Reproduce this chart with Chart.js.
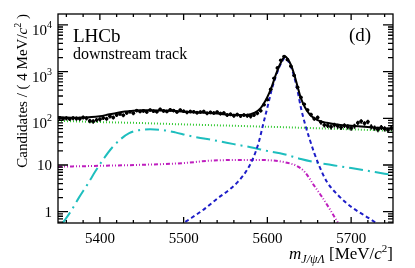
<!DOCTYPE html>
<html>
<head>
<meta charset="utf-8">
<script src="https://cdn.jsdelivr.net/npm/chart.js@4.4.0/dist/chart.umd.min.js"></script>
<style>
    html, body { margin: 0; padding: 0; background: #fff; }
</style>
</head>
<body>
<canvas id="graficoMasa" width="415" height="268"></canvas>
<script>
// Bins de 4 MeV entre 5350 y 5750
const inicioBin = 5350;
const anchoBin = 4;
const cuentas = [
    102, 98, 100, 97, 101, 99, 98, 104, 100, 88,
    86, 92, 95, 102, 98, 110, 104, 118, 124, 116,
    130, 138, 128, 146, 140, 144, 136, 150, 142, 138,
    155, 144, 140, 152, 146, 136, 150, 142, 134, 140,
    138, 132, 136, 140, 128, 134, 130, 136, 126, 130,
    118, 122, 114, 120, 112, 118, 114, 110, 118, 128,
    145, 195, 250, 420, 720, 1200, 1750, 2100, 1800, 1300,
    820, 460, 280, 200, 150, 120, 98, 104, 82, 72,
    70, 66, 72, 68, 64, 70, 66, 62, 68, 80,
    86, 78, 84, 66, 62, 58, 64, 60, 56, 62
];

// Ajuste total (linea negra)
const totalX = [5350, 5360, 5370, 5380, 5390, 5400, 5410, 5420, 5430, 5440, 5450, 5460, 5475, 5490, 5505, 5520, 5540, 5560, 5575, 5585, 5592, 5597, 5602, 5606, 5610, 5614, 5618, 5621, 5624, 5628, 5632, 5636, 5640, 5645, 5650, 5656, 5662, 5671, 5685, 5700, 5720, 5735, 5750];
const totalY = [106, 104, 103, 104, 106, 111, 120, 130, 139, 145, 148, 149, 147, 143, 137, 133, 126, 118, 118, 132, 165, 225, 340, 520, 850, 1300, 1800, 2100, 1900, 1400, 880, 480, 270, 170, 125, 100, 88, 80, 73, 69, 65, 62, 60];

// Senal (azul discontinua)
const senalX = [5495, 5510, 5525, 5540, 5555, 5565, 5575, 5583, 5590, 5595, 5600, 5605, 5610, 5614, 5618, 5621, 5624, 5628, 5632, 5636, 5640, 5645, 5650, 5656, 5662, 5671, 5685, 5702, 5720, 5735];
const senalY = [0.5, 0.75, 1.15, 1.9, 3.0, 4.4, 7.5, 14, 32, 75, 170, 400, 780, 1220, 1700, 1980, 1780, 1280, 780, 390, 170, 75, 38, 18, 9.5, 4.4, 2.2, 1.2, 0.75, 0.5];

// Fondo combinatorio (verde punteada)
const combX = [5350, 5400, 5450, 5500, 5550, 5600, 5650, 5700, 5750];
const combY = [88, 83, 79, 74, 70, 66, 62, 58, 54];

// Fondo parcial (cian raya-punto)
const parcialX = [5355, 5365, 5375, 5385, 5395, 5405, 5415, 5425, 5435, 5445, 5460, 5475, 5490, 5505, 5520, 5540, 5560, 5580, 5600, 5620, 5640, 5660, 5680, 5700, 5720, 5740, 5750];
const parcialY = [0.55, 1.0, 2.0, 3.8, 7.5, 14, 24, 36, 48, 55, 58, 56, 50, 43, 38, 33, 28, 24, 20, 17, 13.5, 11.2, 9.8, 8.6, 7.5, 6.5, 6.1];

// Otro fondo (magenta)
const otroX = [5350, 5400, 5450, 5500, 5530, 5560, 5590, 5610, 5625, 5635, 5645, 5655, 5665, 5675, 5685];
const otroY = [9.2, 9.6, 10.1, 11.0, 12.3, 12.8, 12.8, 12.3, 11.0, 9.6, 7.0, 3.8, 2.1, 1.1, 0.55];

const etiquetasX = [5400, 5500, 5600, 5700];
const decadasY = [0, 1, 2, 3, 4];

const aPuntos = (xs, ys) => xs.map((x, i) => ({ x: x, y: ys[i] }));
const datosBins = cuentas.map((n, i) => ({ x: inicioBin + anchoBin * (i + 0.5), y: n }));

const fuenteSerif = '"Liberation Serif", "DejaVu Serif", serif';

// Dibuja texto con trozos (cursiva, superindice, subindice)
function textoRico(ctx, trozos, x, y, alinear) {
    let total = 0;
    trozos.forEach(t => { ctx.font = t.f; total += ctx.measureText(t.t).width; });
    let cx = alinear === 'right' ? x - total : x;
    ctx.textAlign = 'left';
    trozos.forEach(t => {
        ctx.font = t.f;
        ctx.fillText(t.t, cx, y + (t.dy || 0));
        cx += ctx.measureText(t.t).width;
    });
}

// Barras de error de los datos
const barrasError = {
    id: 'barrasError',
    afterDatasetsDraw(chart) {
        const { ctx, scales: { x, y }, chartArea: a } = chart;
        ctx.save();
        ctx.beginPath();
        ctx.rect(a.left, a.top, a.right - a.left, a.bottom - a.top);
        ctx.clip();
        ctx.strokeStyle = '#000';
        ctx.lineWidth = 1.5;
        datosBins.forEach(p => {
            const err = Math.sqrt(p.y);
            const px = x.getPixelForValue(p.x);
            const py = y.getPixelForValue(p.y);
            ctx.beginPath();
            ctx.moveTo(px, y.getPixelForValue(p.y + err));
            ctx.lineTo(px, y.getPixelForValue(Math.max(p.y - err, 0.01)));
            ctx.moveTo(x.getPixelForValue(p.x - anchoBin / 2), py);
            ctx.lineTo(x.getPixelForValue(p.x + anchoBin / 2), py);
            ctx.stroke();
            ctx.beginPath();
            ctx.arc(px, py, 1.8, 0, Math.PI * 2);
            ctx.fillStyle = '#000';
            ctx.fill();
        });
        ctx.restore();
    }
};

// Marco, marcas hacia dentro y textos estilo ROOT
const marcoEjes = {
    id: 'marcoEjes',
    afterDraw(chart) {
        const { ctx, scales: { x, y }, chartArea: a } = chart;
        ctx.save();
        ctx.strokeStyle = '#000';
        ctx.fillStyle = '#000';
        ctx.lineWidth = 1.3;
        ctx.strokeRect(a.left, a.top, a.right - a.left, a.bottom - a.top);

        ctx.beginPath();
        for (let v = 5360; v <= 5740; v += 20) {
            const px = x.getPixelForValue(v);
            const largo = v % 100 === 0 ? 6 : 3;
            ctx.moveTo(px, a.bottom); ctx.lineTo(px, a.bottom - largo);
            ctx.moveTo(px, a.top); ctx.lineTo(px, a.top + largo);
        }
        for (let d = -1; d <= 4; d++) {
            for (let m = 1; m <= 9; m++) {
                const v = m * Math.pow(10, d);
                if (v < y.min || v > y.max) continue;
                const py = y.getPixelForValue(v);
                const largo = m === 1 ? 10 : 5;
                ctx.moveTo(a.left, py); ctx.lineTo(a.left + largo, py);
                ctx.moveTo(a.right, py); ctx.lineTo(a.right - largo, py);
            }
        }
        ctx.stroke();

        // etiquetas del eje x
        ctx.font = '15px ' + fuenteSerif;
        ctx.textAlign = 'center';
        ctx.textBaseline = 'alphabetic';
        etiquetasX.forEach(v => ctx.fillText(String(v), x.getPixelForValue(v), 243));

        // etiquetas del eje y
        decadasY.forEach(d => {
            const py = y.getPixelForValue(Math.pow(10, d));
            if (d === 0) {
                ctx.font = '15px ' + fuenteSerif;
                ctx.textAlign = 'right';
                ctx.fillText('1', 52, py + 5);
            } else if (d === 1) {
                ctx.font = '15px ' + fuenteSerif;
                ctx.textAlign = 'right';
                ctx.fillText('10', 52, py + 5);
            } else {
                textoRico(ctx, [
                    { t: '10', f: '15px ' + fuenteSerif },
                    { t: String(d), f: '10px ' + fuenteSerif, dy: -7 }
                ], 52, py + 10, 'right');
            }
        });

        // titulo eje x
        textoRico(ctx, [
            { t: 'm', f: 'italic 17px ' + fuenteSerif },
            { t: 'J/\u03C8\u039B', f: 'italic 12px ' + fuenteSerif, dy: 4 },
            { t: ' [MeV/', f: '17px ' + fuenteSerif },
            { t: 'c', f: 'italic 17px ' + fuenteSerif },
            { t: '2', f: '11px ' + fuenteSerif, dy: -7 },
            { t: ']', f: '17px ' + fuenteSerif }
        ], a.right, 259, 'right');

        // titulo eje y (girado)
        ctx.save();
        ctx.translate(27, a.top);
        ctx.rotate(-Math.PI / 2);
        textoRico(ctx, [
            { t: 'Candidates / ( 4 MeV/', f: '15px ' + fuenteSerif },
            { t: 'c', f: 'italic 15px ' + fuenteSerif },
            { t: '2', f: '10px ' + fuenteSerif, dy: -6 },
            { t: ' )', f: '15px ' + fuenteSerif }
        ], 0, 0, 'right');
        ctx.restore();

        // textos dentro del grafico
        ctx.textAlign = 'left';
        ctx.font = '19px ' + fuenteSerif;
        ctx.fillText('LHCb', 73, 42);
        ctx.font = '16px ' + fuenteSerif;
        ctx.fillText('downstream track', 73, 59);
        ctx.font = '19px ' + fuenteSerif;
        ctx.fillText('(d)', 349, 41);
        ctx.restore();
    }
};

const ctxMasa = document.getElementById('graficoMasa').getContext('2d');
const graficoMasa = new Chart(ctxMasa, {
    type: 'scatter',
    data: {
        datasets: [
            {
                label: 'Datos',
                data: datosBins,
                showLine: false,
                pointRadius: 0
            },
            {
                label: 'Total',
                data: aPuntos(totalX, totalY),
                showLine: true,
                pointRadius: 0,
                borderColor: '#000',
                borderWidth: 2,
                cubicInterpolationMode: 'monotone'
            },
            {
                label: 'Senal',
                data: aPuntos(senalX, senalY),
                showLine: true,
                pointRadius: 0,
                borderColor: 'rgb(30, 30, 200)',
                borderWidth: 2,
                borderDash: [4, 3],
                cubicInterpolationMode: 'monotone'
            },
            {
                label: 'Parcial',
                data: aPuntos(parcialX, parcialY),
                showLine: true,
                pointRadius: 0,
                borderColor: 'rgb(30, 190, 190)',
                borderWidth: 2,
                borderDash: [14, 5, 2, 5],
                cubicInterpolationMode: 'monotone'
            },
            {
                label: 'Otro',
                data: aPuntos(otroX, otroY),
                showLine: true,
                pointRadius: 0,
                borderColor: 'rgb(190, 30, 190)',
                borderWidth: 2,
                borderDash: [4, 2, 1, 2, 1, 2],
                cubicInterpolationMode: 'monotone'
            },
            {
                label: 'Combinatorio',
                data: aPuntos(combX, combY),
                showLine: true,
                pointRadius: 0,
                borderColor: 'rgb(50, 200, 50)',
                borderWidth: 2,
                borderDash: [1, 2],
                cubicInterpolationMode: 'monotone'
            }
        ]
    },
    options: {
        responsive: false,
        animation: false,
        layout: { padding: { left: 58, right: 22, top: 14, bottom: 45 } },
        scales: {
            x: { type: 'linear', min: 5350, max: 5750, display: false },
            y: { type: 'logarithmic', min: 0.573, max: 17100, display: false }
        },
        plugins: {
            legend: { display: false },
            tooltip: { enabled: false }
        }
    },
    plugins: [barrasError, marcoEjes]
});
</script>
</body>
</html>
